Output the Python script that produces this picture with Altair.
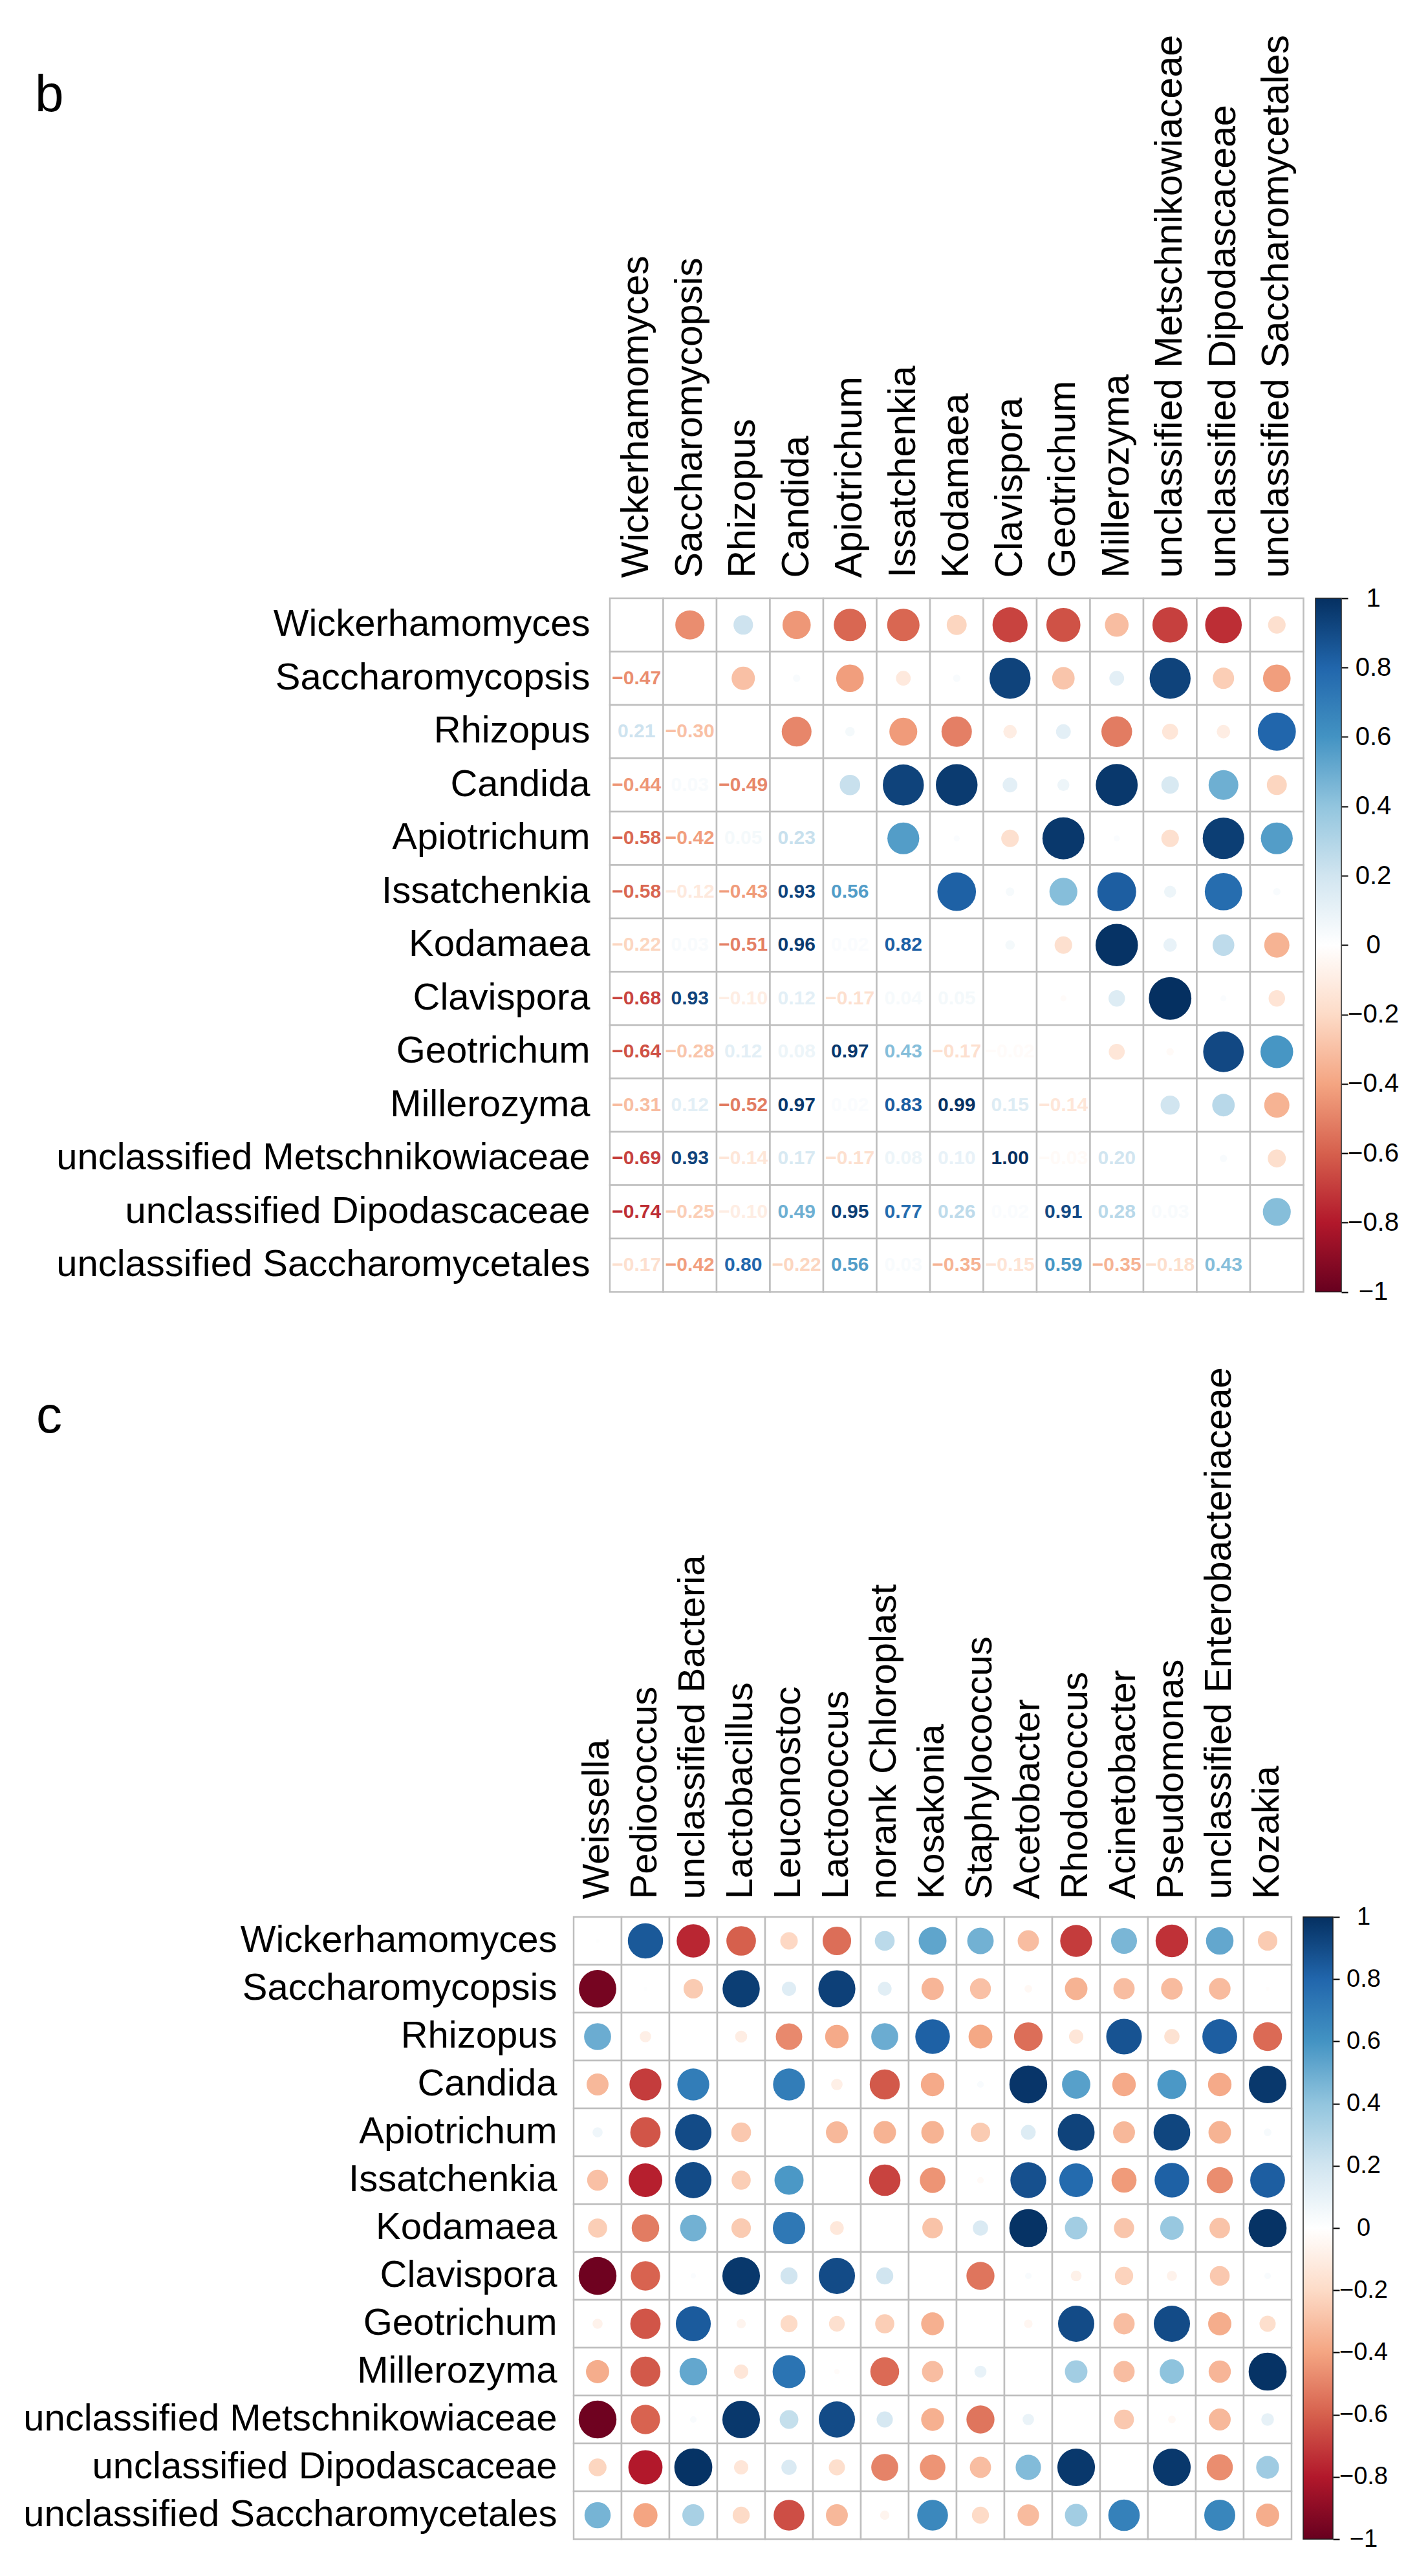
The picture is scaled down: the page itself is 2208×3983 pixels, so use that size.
import altair as alt
import pandas as pd

FONT = "Liberation Sans"

yeasts = ["Wickerhamomyces", "Saccharomycopsis", "Rhizopus", "Candida", "Apiotrichum",
          "Issatchenkia", "Kodamaea", "Clavispora", "Geotrichum", "Millerozyma",
          "unclassified Metschnikowiaceae", "unclassified Dipodascaceae",
          "unclassified Saccharomycetales"]
bacteria = ["Weissella", "Pediococcus", "unclassified Bacteria", "Lactobacillus", "Leuconostoc",
            "Lactococcus", "norank Chloroplast", "Kosakonia", "Staphylococcus", "Acetobacter",
            "Rhodococcus", "Acinetobacter", "Pseudomonas", "unclassified Enterobacteriaceae", "Kozakia"]

# ---- panel b: yeast-yeast correlations (lower triangle, row i vs columns 0..i-1)
b_saccharomycopsis = [-0.47]
b_rhizopus = [0.21, -0.30]
b_candida = [-0.44, 0.03, -0.49]
b_apiotrichum = [-0.58, -0.42, 0.05, 0.23]
b_issatchenkia = [-0.58, -0.12, -0.43, 0.93, 0.56]
b_kodamaea = [-0.22, 0.03, -0.51, 0.96, 0.02, 0.82]
b_clavispora = [-0.68, 0.93, -0.10, 0.12, -0.17, 0.04, 0.05]
b_geotrichum = [-0.64, -0.28, 0.12, 0.08, 0.97, 0.43, -0.17, -0.02]
b_millerozyma = [-0.31, 0.12, -0.52, 0.97, 0.02, 0.83, 0.99, 0.15, -0.14]
b_metschnikowiaceae = [-0.69, 0.93, -0.14, 0.17, -0.17, 0.08, 0.10, 1.00, -0.03, 0.20]
b_dipodascaceae = [-0.74, -0.25, -0.10, 0.49, 0.95, 0.77, 0.26, 0.02, 0.91, 0.28, 0.03]
b_saccharomycetales = [-0.17, -0.42, 0.80, -0.22, 0.56, 0.03, -0.35, -0.15, 0.59, -0.35, -0.18, 0.43]

# ---- panel c: yeast (rows) vs bacteria (columns)
c_wickerhamomyces = [0.01, 0.85, -0.76, -0.60, -0.21, -0.56, 0.27, 0.53, 0.48, -0.31, -0.70, 0.46, -0.73, 0.52, -0.26]
c_saccharomycopsis = [-0.96, 0.01, -0.26, 0.95, 0.14, 0.94, 0.13, -0.34, -0.30, -0.04, -0.35, -0.31, -0.32, -0.32, -0.01]
c_rhizopus = [0.50, -0.09, 0.00, -0.10, -0.48, -0.38, 0.50, 0.82, -0.39, -0.56, -0.14, 0.87, -0.16, 0.83, -0.57]
c_candida = [-0.33, -0.70, 0.70, 0.00, 0.70, -0.09, -0.62, -0.38, 0.03, 0.98, 0.55, -0.38, 0.58, -0.38, 0.97]
c_apiotrichum = [0.07, -0.63, 0.90, -0.27, 0.00, -0.33, -0.35, -0.35, -0.26, 0.15, 0.93, -0.33, 0.92, -0.35, 0.04]
c_issatchenkia = [-0.30, -0.78, 0.90, -0.25, 0.58, 0.00, -0.68, -0.45, -0.03, 0.88, 0.78, -0.43, 0.82, -0.47, 0.83]
c_kodamaea = [-0.25, -0.52, 0.48, -0.26, 0.72, -0.13, 0.00, -0.29, 0.16, 0.99, 0.35, -0.28, 0.38, -0.29, 0.99]
c_clavispora = [-0.98, -0.59, 0.02, 0.97, 0.20, 0.90, 0.20, 0.00, -0.54, 0.03, -0.08, -0.23, -0.07, -0.27, 0.03]
c_geotrichum = [-0.07, -0.63, 0.84, -0.06, -0.20, -0.17, -0.25, -0.36, 0.00, -0.05, 0.90, -0.31, 0.90, -0.37, -0.18]
c_millerozyma = [-0.37, -0.62, 0.52, -0.14, 0.74, -0.02, -0.57, -0.31, 0.10, 0.00, 0.35, -0.31, 0.41, -0.34, 0.99]
c_metschnikowiaceae = [-0.98, -0.59, 0.03, 0.97, 0.24, 0.90, 0.18, -0.36, -0.54, 0.09, 0.00, -0.27, -0.04, -0.33, 0.11]
c_dipodascaceae = [-0.22, -0.80, 0.99, -0.14, 0.16, -0.18, -0.50, -0.45, -0.31, 0.44, 0.97, 0.00, 0.97, -0.47, 0.36]
c_saccharomycetales = [0.47, -0.40, 0.33, -0.20, -0.65, -0.33, -0.06, 0.65, -0.20, -0.32, 0.35, 0.68, 0.00, 0.66, -0.37]

legend_ticks = [-1, -0.8, -0.6, -0.4, -0.2, 0, 0.2, 0.4, 0.6, 0.8, 1]
rdbu = ["#67001F", "#B2182B", "#D6604D", "#F4A582", "#FDDBC7", "#FFFFFF",
        "#D1E5F0", "#92C5DE", "#4393C3", "#2166AC", "#053061"]

b_lower = [[], b_saccharomycopsis, b_rhizopus, b_candida, b_apiotrichum, b_issatchenkia,
           b_kodamaea, b_clavispora, b_geotrichum, b_millerozyma, b_metschnikowiaceae,
           b_dipodascaceae, b_saccharomycetales]
c_rows = [c_wickerhamomyces, c_saccharomycopsis, c_rhizopus, c_candida, c_apiotrichum,
          c_issatchenkia, c_kodamaea, c_clavispora, c_geotrichum, c_millerozyma,
          c_metschnikowiaceae, c_dipodascaceae, c_saccharomycetales]

recs_b = []
for i, rn in enumerate(yeasts):
    for j, cn in enumerate(yeasts):
        if i == j:
            recs_b.append({"row": rn, "col": cn, "part": "diag", "r": 0.0})
        elif j < i:
            recs_b.append({"row": rn, "col": cn, "part": "lower", "r": b_lower[i][j]})
        else:
            recs_b.append({"row": rn, "col": cn, "part": "upper", "r": b_lower[j][i]})
df_b = pd.DataFrame(recs_b)

recs_c = []
for i, rn in enumerate(yeasts):
    for j, cn in enumerate(bacteria):
        recs_c.append({"row": rn, "col": cn, "r": c_rows[i][j]})
df_c = pd.DataFrame(recs_c)

cscale = alt.Scale(domain=legend_ticks, range=rdbu, interpolate="rgb")
GRID = "#BEBEBE"


def heat(df, cols, cell, lead, col_fs, lab_pad_x, lab_pad_y, letter, letter_dx, letter_dy, numbers):
    n = len(cols)
    w = cell * n + lead
    h = cell * len(yeasts)
    pad_outer = (w / cell - n) / 2.0
    x = alt.X("col:N", title=None,
              scale=alt.Scale(type="band", domain=cols, paddingInner=0, paddingOuter=pad_outer, align=1),
              axis=alt.Axis(orient="top", labelAngle=270, labelAlign="left", labelBaseline="middle",
                            labelPadding=lab_pad_x, labelFontSize=col_fs, labelFont=FONT,
                            labelColor="black", ticks=False, domain=False, grid=False,
                            labelLimit=3000, labelOverlap=False))
    y = alt.Y("row:N", title=None,
              scale=alt.Scale(type="band", domain=yeasts, paddingInner=0, paddingOuter=0),
              axis=alt.Axis(orient="left", labelAlign="right", labelBaseline="middle",
                            labelPadding=lab_pad_y, labelFontSize=58, labelFont=FONT,
                            labelColor="black", ticks=False, domain=False, grid=False,
                            labelLimit=3000, labelOverlap=False, offset=-lead))
    base = alt.Chart(df)
    cells = base.mark_rect(fill="white", stroke=GRID, strokeWidth=2.5).encode(x=x, y=y)
    smax = 3.14159265 / 4 * (0.9 * cell) ** 2
    circ_src = base.transform_filter("datum.part == 'upper'") if numbers else base
    circles = circ_src.transform_calculate(a="abs(datum.r)").mark_circle(opacity=1).encode(
        x=x, y=y,
        color=alt.Color("r:Q", scale=cscale, legend=None),
        size=alt.Size("a:Q", scale=alt.Scale(domain=[0, 1], range=[0, smax], zero=True), legend=None),
    )
    layers = [cells, circles]
    if numbers:
        txt = base.transform_filter("datum.part == 'lower'").mark_text(
            font=FONT, fontSize=30, fontWeight="bold", align="center", baseline="middle"
        ).encode(x=x, y=y, text=alt.Text("r:Q", format=".2f"),
                 color=alt.Color("r:Q", scale=cscale, legend=None))
        layers.append(txt)
    lett = alt.Chart(pd.DataFrame({"t": [letter]})).mark_text(
        font=FONT, fontSize=80, align="left", baseline="alphabetic", color="black"
    ).encode(text="t:N", x=alt.value(letter_dx), y=alt.value(letter_dy))
    layers.append(lett)
    return alt.layer(*layers).properties(width=w, height=h).resolve_scale(color="shared")


def colorbar(height, width, lab_pad, fs):
    grad = alt.LinearGradient(
        gradient="linear",
        stops=[alt.GradientStop(offset=k / 10, color=c) for k, c in enumerate(rdbu)],
        x1=0, x2=0, y1=1, y2=0)
    return alt.Chart(pd.DataFrame({"lo": [-1], "hi": [1]})).mark_rect(
        fill=grad, stroke="#222222", strokeWidth=1.5
    ).encode(
        x=alt.value(0), x2=alt.value("width"),
        y=alt.Y("lo:Q", title=None, scale=alt.Scale(domain=[-1, 1], nice=False, zero=False),
                axis=alt.Axis(orient="right", values=legend_ticks, format=".1~f", domain=False,
                              grid=False, ticks=True, tickSize=10, tickWidth=2, tickColor="black",
                              labelAlign="center", labelBaseline="middle", labelPadding=lab_pad,
                              labelFontSize=fs, labelFont=FONT, labelColor="black",
                              labelOverlap=False, labelFlush=False)),
        y2="hi:Q",
    ).properties(width=width, height=height)


hb = alt.hconcat(
    heat(df_b, yeasts, 82.5, 56, 59, 32, 31, "b", -833, -753, True),
    colorbar(82.5 * 13, 40, 39, 40),
    spacing=18, bounds="flush",
).resolve_scale(x="independent", y="independent", color="independent", size="independent")

hc = alt.hconcat(
    heat(df_c, bacteria, 74, 0, 58, 28, 26, "c", -831, -749, False),
    colorbar(74 * 13, 46, 37, 38),
    spacing=18, bounds="flush",
).resolve_scale(x="independent", y="independent", color="independent", size="independent")

chart = alt.vconcat(hb, hc, spacing=95).resolve_scale(
    x="independent", y="independent", color="independent", size="independent"
).properties(
    padding={"left": 27, "top": 45, "right": 10, "bottom": 10},
    background="white",
).configure_view(strokeWidth=0)

chart.save("out.html", embed_options={"renderer": "svg", "actions": False})
